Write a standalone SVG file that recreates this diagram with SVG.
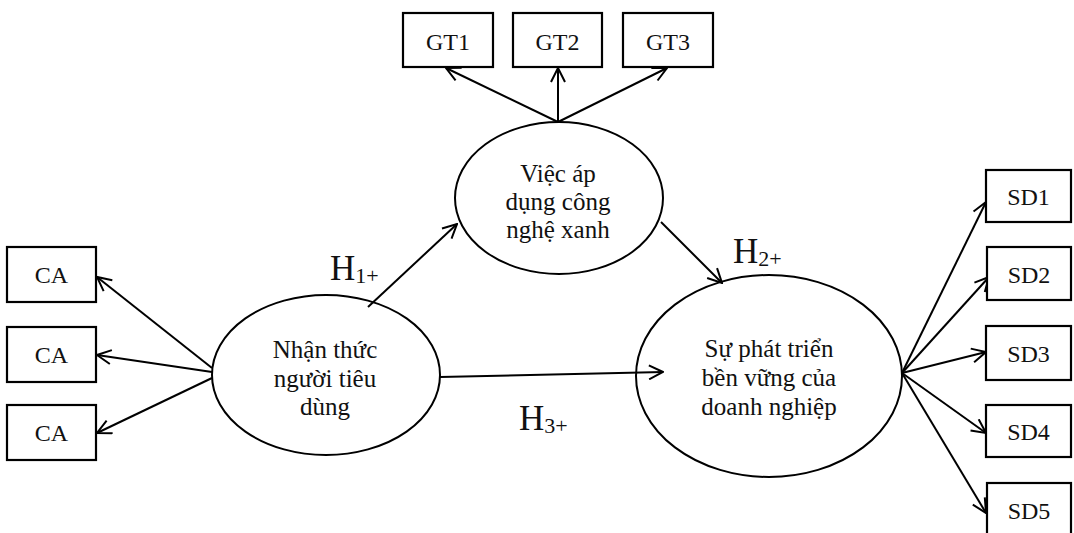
<svg xmlns="http://www.w3.org/2000/svg" width="1074" height="533" viewBox="0 0 1074 533">
<defs>
<marker id="arr" viewBox="0 0 16 16" refX="15" refY="8" markerWidth="16" markerHeight="16" markerUnits="userSpaceOnUse" orient="auto">
<path d="M1,1 L15,8 L1,15" fill="none" stroke="#000" stroke-width="2"/>
</marker>
<style>
.box{fill:#fff;stroke:#000;stroke-width:2.2}
.ell{fill:none;stroke:#000;stroke-width:2}
.t{font-family:"Liberation Serif","Times New Roman",serif;font-size:24px;fill:#111;text-anchor:middle}
.te{font-family:"Liberation Serif","Times New Roman",serif;font-size:25px;fill:#111;text-anchor:middle}
.h{font-family:"Liberation Serif","Times New Roman",serif;font-size:35px;fill:#111}
.c{stroke:#000;stroke-width:2;fill:none;marker-end:url(#arr)}
</style>
</defs>
<rect width="1074" height="533" fill="#fff"/>
<g id="connectors">
<line class="c" x1="558" y1="122" x2="446" y2="68"/>
<line class="c" x1="558" y1="122" x2="558" y2="68"/>
<line class="c" x1="558" y1="122" x2="667" y2="68"/>
<line class="c" x1="212" y1="368" x2="97" y2="277"/>
<line class="c" x1="212" y1="372" x2="97" y2="355"/>
<line class="c" x1="212" y1="378" x2="97" y2="433"/>
<line class="c" x1="368" y1="307" x2="457" y2="224"/>
<line class="c" x1="661" y1="222" x2="722" y2="283"/>
<line class="c" x1="440" y1="377" x2="663" y2="372"/>
<line class="c" x1="902" y1="373" x2="986" y2="202"/>
<line class="c" x1="902" y1="373" x2="989" y2="277"/>
<line class="c" x1="902" y1="373" x2="986" y2="352"/>
<line class="c" x1="902" y1="373" x2="986" y2="433"/>
<line class="c" x1="902" y1="373" x2="986" y2="513"/>
</g>
<g id="GT1"><rect class="box" x="403" y="13" width="90" height="54"/><text class="t" x="448" y="50">GT1</text></g>
<g id="GT2"><rect class="box" x="513" y="13" width="89" height="54"/><text class="t" x="557.5" y="50">GT2</text></g>
<g id="GT3"><rect class="box" x="623" y="13" width="90" height="54"/><text class="t" x="668" y="50">GT3</text></g>
<g id="CA1"><rect class="box" x="7" y="247" width="89" height="55"/><text class="t" x="51.5" y="283">CA</text></g>
<g id="CA2"><rect class="box" x="7" y="327" width="89" height="55"/><text class="t" x="51.5" y="363">CA</text></g>
<g id="CA3"><rect class="box" x="7" y="405" width="89" height="55"/><text class="t" x="51.5" y="441">CA</text></g>
<g id="SD1"><rect class="box" x="986" y="170" width="85" height="52"/><text class="t" x="1028.5" y="205">SD1</text></g>
<g id="SD2"><rect class="box" x="987" y="247" width="84" height="53"/><text class="t" x="1029" y="283">SD2</text></g>
<g id="SD3"><rect class="box" x="986" y="326" width="85" height="54"/><text class="t" x="1028.5" y="362">SD3</text></g>
<g id="SD4"><rect class="box" x="986" y="405" width="85" height="52"/><text class="t" x="1028.5" y="440">SD4</text></g>
<g id="SD5"><rect class="box" x="987" y="483" width="84" height="52"/><text class="t" x="1029" y="519">SD5</text></g>
<g id="tech"><ellipse class="ell" cx="559" cy="198" rx="104" ry="76"/>
<text class="te" x="558" y="182">Việc áp</text><text class="te" x="558" y="210">dụng công</text><text class="te" x="558" y="238">nghệ xanh</text></g>
<g id="consumer"><ellipse class="ell" cx="326" cy="375" rx="114" ry="80"/>
<text class="te" x="325" y="358">Nhận thức</text><text class="te" x="325" y="387">người tiêu</text><text class="te" x="325" y="415">dùng</text></g>
<g id="sustain"><ellipse class="ell" cx="769" cy="376" rx="133" ry="101"/>
<text class="te" x="769" y="357">Sự phát triển</text><text class="te" x="769" y="386">bền vững của</text><text class="te" x="769" y="415">doanh nghiệp</text></g>
<g id="labels">
<text class="h" x="330" y="280">H<tspan font-size="22" dy="3">1+</tspan></text>
<text class="h" x="733" y="263">H<tspan font-size="22" dy="3">2+</tspan></text>
<text class="h" x="519" y="430">H<tspan font-size="22" dy="3">3+</tspan></text>
</g>
</svg>
